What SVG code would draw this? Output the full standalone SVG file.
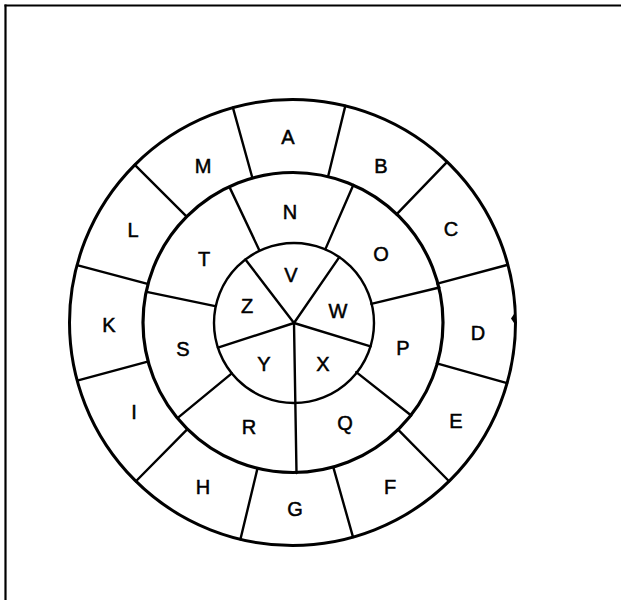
<svg xmlns="http://www.w3.org/2000/svg" width="621" height="600" viewBox="0 0 621 600">
<style>
.ring{fill:none;stroke:#000}
.sp{stroke:#000;stroke-width:2.4;stroke-linecap:round}
.lbl{font-family:"Liberation Sans",Arial,sans-serif;font-size:20px;fill:#000;stroke:#000;stroke-width:0.5;text-anchor:middle}
</style>
<rect width="621" height="600" fill="#fff"/>
<g id="frame" stroke="#000" stroke-width="2.2" fill="none">
<line x1="4.5" y1="5.5" x2="621" y2="5.5"/>
<line x1="5.5" y1="4.5" x2="5.5" y2="600"/>
</g>
<g id="connectors">
<circle class="ring" cx="292.5" cy="322.5" r="223" stroke-width="3"/>
<circle class="ring" cx="293" cy="322.5" r="150" stroke-width="3.2"/>
<circle class="ring" cx="294" cy="323" r="80" stroke-width="2.4"/>
<g transform="translate(292.5,322.5)">
<line class="sp" x1="0" y1="-150" x2="0" y2="-223" transform="rotate(-15.5)"/>
<line class="sp" x1="0" y1="-150" x2="0" y2="-223" transform="rotate(13.7)"/>
<line class="sp" x1="0" y1="-150" x2="0" y2="-223" transform="rotate(43.9)"/>
<line class="sp" x1="0" y1="-150" x2="0" y2="-223" transform="rotate(75)"/>
<line class="sp" x1="0" y1="-150" x2="0" y2="-223" transform="rotate(105.8)"/>
<line class="sp" x1="0" y1="-150" x2="0" y2="-223" transform="rotate(135.4)"/>
<line class="sp" x1="0" y1="-150" x2="0" y2="-223" transform="rotate(164.25)"/>
<line class="sp" x1="0" y1="-150" x2="0" y2="-223" transform="rotate(193.5)"/>
<line class="sp" x1="0" y1="-150" x2="0" y2="-223" transform="rotate(224.6)"/>
<line class="sp" x1="0" y1="-150" x2="0" y2="-223" transform="rotate(254.9)"/>
<line class="sp" x1="0" y1="-150" x2="0" y2="-223" transform="rotate(284.9)"/>
<line class="sp" x1="0" y1="-150" x2="0" y2="-223" transform="rotate(315)"/>
</g>
<g transform="translate(293.5,322.5)">
<line class="sp" x1="0" y1="-80" x2="0" y2="-150" transform="rotate(-25.3)"/>
<line class="sp" x1="0" y1="-80" x2="0" y2="-150" transform="rotate(23.5)"/>
<line class="sp" x1="0" y1="-80" x2="0" y2="-150" transform="rotate(76.5)"/>
<line class="sp" x1="0" y1="-80" x2="0" y2="-150" transform="rotate(128.3)"/>
<line class="sp" x1="0" y1="-80" x2="0" y2="-150" transform="rotate(230.5)"/>
<line class="sp" x1="0" y1="-80" x2="0" y2="-150" transform="rotate(281.8)"/>
</g>
<g transform="translate(294,323)">
<line class="sp" x1="0" y1="0" x2="0" y2="-80" transform="rotate(-37.4)"/>
<line class="sp" x1="0" y1="0" x2="0" y2="-80" transform="rotate(34.5)"/>
<line class="sp" x1="0" y1="0" x2="0" y2="-80" transform="rotate(107)"/>
<line class="sp" x1="0" y1="0" x2="0" y2="-80" transform="rotate(252)"/>
<line class="sp" x1="0" y1="0" x2="2.5" y2="150"/>
</g>
<polygon points="514,314 511,318.5 514,323" fill="#000"/>
</g>
<g id="A"><text class="lbl" x="288" y="144">A</text></g>
<g id="B"><text class="lbl" x="381" y="173">B</text></g>
<g id="C"><text class="lbl" x="451" y="236">C</text></g>
<g id="D"><text class="lbl" x="478" y="340">D</text></g>
<g id="E"><text class="lbl" x="456" y="428">E</text></g>
<g id="F"><text class="lbl" x="390" y="494">F</text></g>
<g id="G"><text class="lbl" x="295" y="516">G</text></g>
<g id="H"><text class="lbl" x="203" y="494">H</text></g>
<g id="I"><text class="lbl" x="134" y="419">I</text></g>
<g id="K"><text class="lbl" x="109" y="332">K</text></g>
<g id="L"><text class="lbl" x="133" y="237">L</text></g>
<g id="M"><text class="lbl" x="203" y="173">M</text></g>
<g id="N"><text class="lbl" x="290" y="219">N</text></g>
<g id="O"><text class="lbl" x="381" y="261">O</text></g>
<g id="P"><text class="lbl" x="403" y="355">P</text></g>
<g id="Q"><text class="lbl" x="345" y="430">Q</text></g>
<g id="R"><text class="lbl" x="249" y="434">R</text></g>
<g id="S"><text class="lbl" x="183" y="356">S</text></g>
<g id="T"><text class="lbl" x="204" y="266">T</text></g>
<g id="V"><text class="lbl" x="291" y="282">V</text></g>
<g id="W"><text class="lbl" x="338" y="318">W</text></g>
<g id="X"><text class="lbl" x="323" y="371">X</text></g>
<g id="Y"><text class="lbl" x="264" y="371">Y</text></g>
<g id="Z"><text class="lbl" x="247" y="313">Z</text></g>
</svg>
